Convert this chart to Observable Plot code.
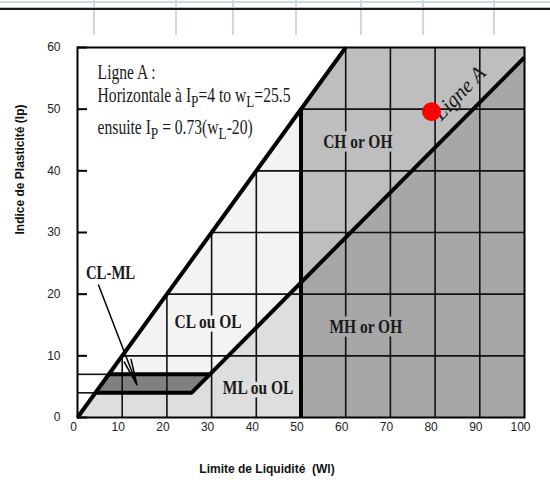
<!DOCTYPE html>
<html><head><meta charset="utf-8">
<script src="https://cdn.jsdelivr.net/npm/d3@7"></script>
<script src="https://cdn.jsdelivr.net/npm/@observablehq/plot@0.6"></script>
<style>
html,body{margin:0;padding:0;background:#fff;}
#wrap{position:relative;width:550px;height:498px;overflow:hidden;}
#deco{position:absolute;left:0;top:0;width:550px;height:36px;pointer-events:none;}
#deco div{position:absolute;}
</style></head><body>
<div id="wrap"><div id="chart"></div><div id="deco"></div></div>
<script>
// ---- data ----
const xTicks = [0,10,20,30,40,50,60,70,80,90,100];
const yTicks = [0,10,20,30,40,50,60];

// zones (wL, Ip) polygons
const zoneML   = [[0,0],[50,0],[50,21.9],[25.5,4],[4,4]];
const zoneCLML = [[4,4],[25.5,4],[29.6,7],[7,7]];
const zoneCL   = [[7,7],[29.6,7],[50,21.9],[50,50]];
const zoneCH   = [[50,50],[50,21.9],[100,58.4],[100,60],[60,60]];
const zoneMH   = [[50,0],[100,0],[100,58.4],[50,21.9]];

// boundary lines
const lineDiag  = [[0,0],[60,60]];
const lineA     = [[4,4],[25.5,4],[100,58.4]];
const lineBand  = [[7,7],[29.6,7]];
const line50    = [[50,0],[50,50]];

// grid segments
const vGridX   = [10,20,30,40,60,70,80,90];
const vGridTop = [10,20,30,40,60,60,60,60];
const hGridY    = [4,7,10,20,30,40,50];
const hGridFrom = [0,0,10,20,30,40,50];
const hGridTo   = [4,7,100,100,100,100,100];

// labels
const zoneLabels = ["CL ou OL","ML ou OL","CH or OH","MH or OH"];
const zoneLabelX = [29.2,40.4,62.7,64.5];
const zoneLabelY = [15.4,4.7,44.6,14.6];
const clmlLabel = ["CL-ML"];
const clmlX = [7.4], clmlY = [23.5];
const arrowFrom = [4.7,21.5], arrowTo = [13.3,5.3];
const boxLines = ["Ligne A :","Horizontale à I_P=4 to w_L=25.5","ensuite I_P = 0.73(w_L-20)"];
const boxX = [4.5,4.5,4.5];
const boxY = [56.0,52.2,47.05];
const ligneA = ["Ligne A"], ligneAX = [85.4], ligneAY = [52.6];
const point = [{wl: 79.2, ip: 49.6}];

const xLabel = "Limite de Liquidité\u00a0 (Wl)";
const yLabel = "Indice de Plasticité (Ip)";

// ---- chart ----
const poly = (pts, fill) => Plot.line(pts, {x: d => d[0], y: d => d[1], fill, stroke: fill, strokeWidth: 0.5});
const thick = pts => Plot.line(pts, {x: d => d[0], y: d => d[1], stroke: "#000", strokeWidth: 4, strokeLinejoin: "miter", strokeLinecap: "butt"});
const serif = "Liberation Serif, Times New Roman, serif";
const haloColors = ["#f3f3f3","#dedede","#bebebe","#a7a7a7"];

const chart = Plot.plot({
  width: 550, height: 498,
  marginLeft: 77, marginRight: 26, marginTop: 47, marginBottom: 81,
  x: {domain: [0,100], axis: null},
  y: {domain: [0,60], axis: null},
  style: {fontFamily: "Liberation Sans, Arial, sans-serif", fontSize: "12px", color: "#222", background: "#fff"},
  marks: [
    poly(zoneML, "#dedede"),
    poly(zoneCL, "#f3f3f3"),
    poly(zoneCH, "#bebebe"),
    poly(zoneMH, "#a7a7a7"),
    poly(zoneCLML, "#808080"),
    Plot.ruleX(vGridX, {x: d => d, y1: 0, y2: (d,i) => vGridTop[i], stroke: "#111", strokeWidth: 1.6}),
    Plot.ruleY(hGridY, {y: d => d, x1: (d,i) => hGridFrom[i], x2: (d,i) => hGridTo[i], stroke: "#111", strokeWidth: 1.6}),
    ...zoneLabels.map((lab, i) => Plot.text([lab], {x: () => zoneLabelX[i], y: () => zoneLabelY[i], text: d => d,
      fontFamily: serif, fontSize: 18, fontWeight: "bold", fill: "#1a1a1a",
      stroke: haloColors[i], strokeWidth: 7})),
    thick(lineDiag), thick(lineA), thick(lineBand), thick(line50),
    Plot.frame({stroke: "#000", strokeWidth: 2}),
    Plot.text(clmlLabel, {x: (d,i) => clmlX[i], y: (d,i) => clmlY[i], text: d => d,
      fontFamily: serif, fontSize: 19, fontWeight: "bold", fill: "#1a1a1a"}),
    Plot.arrow([0], {x1: () => arrowFrom[0], y1: () => arrowFrom[1], x2: () => arrowTo[0], y2: () => arrowTo[1],
      stroke: "#000", strokeWidth: 1.5, headLength: 26, headAngle: 16}),
    Plot.text(boxLines, {x: (d,i) => boxX[i], y: (d,i) => boxY[i], text: d => d, textAnchor: "start",
      fontFamily: serif, fontSize: 20, fill: "#1a1a1a"}),
    Plot.text(ligneA, {x: (d,i) => ligneAX[i], y: (d,i) => ligneAY[i], text: d => d,
      fontFamily: serif, fontSize: 21, fontStyle: "italic", fill: "#1a1a1a", rotate: -46}),
    // y ticks (inward) and labels
    Plot.ruleY(yTicks, {y: d => d, insetRight: 437, stroke: "#000", strokeWidth: 2}),
    Plot.text(yTicks, {y: d => d, frameAnchor: "left", dx: -17, textAnchor: "end", text: d => String(d), fontSize: 12, fill: "#222"}),
    // x tick labels
    Plot.text(xTicks, {x: d => d, frameAnchor: "bottom", dy: 13, dx: -4, text: d => String(d), fontSize: 12, fill: "#222"}),
    Plot.text([yLabel], {frameAnchor: "left", dx: -57, dy: 2, rotate: -90, text: d => d, fontWeight: "bold", fontSize: 12, fill: "#111"}),
    Plot.text([xLabel], {frameAnchor: "bottom", dx: -34, dy: 55, text: d => d, fontWeight: "bold", fontSize: 12, fill: "#111"}),
    Plot.dot(point, {x: "wl", y: "ip", r: 9.5, fill: "#ff0000", stroke: "none"})
  ]
});

document.getElementById("chart").appendChild(chart);

// horizontal condensing of serif labels, and subscripts in the note
const squeezeK = new Map();
zoneLabels.forEach(s => squeezeK.set(s, 0.86));
clmlLabel.forEach(s => squeezeK.set(s, 0.78));
boxLines.forEach(s => squeezeK.set(s, 0.78));
d3.select(chart).selectAll("text").each(function(){
  const s = this.textContent;
  if (!squeezeK.has(s)) return;
  const tr = this.getAttribute("transform") || "";
  this.setAttribute("transform", tr + ` scale(${squeezeK.get(s)},1)`);
  if (s.includes("_")) {
    const t = d3.select(this);
    const parts = s.split(/_(\w)/);
    t.text(null);
    let wasSub = false;
    parts.forEach((p, i) => {
      if (!p) return;
      const ts = t.append("tspan").text(p);
      if (i % 2 === 1) { ts.attr("dy", 5).attr("font-size", 17); wasSub = true; }
      else if (wasSub) { ts.attr("dy", -5); wasSub = false; }
    });
  }
});

// slide decoration at the top
const decoCols = [94,176,233,296,361,423,494];
const deco = document.getElementById("deco");
decoCols.forEach(x => {
  const v = document.createElement("div");
  v.style.cssText = `left:${x-1}px;top:0;width:2px;height:35px;background:#cfd7e6;`;
  deco.appendChild(v);
});
[["1px","2px","#cfd7e6"],["7px","1px","#bdbdbd"],["8px","2px","#1a1a1a"]].forEach(([top,h,c]) => {
  const l = document.createElement("div");
  l.style.cssText = `left:0;top:${top};width:550px;height:${h};background:${c};`;
  deco.appendChild(l);
});
</script>
</body></html>
